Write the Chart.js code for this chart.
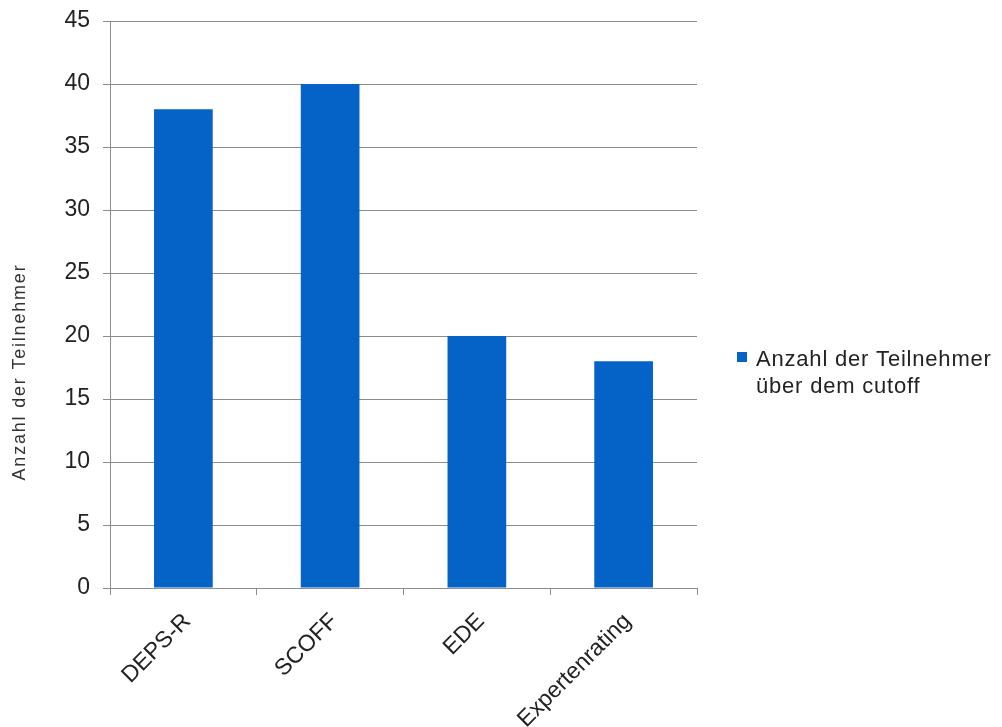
<!DOCTYPE html>
<html>
<head>
<meta charset="utf-8">
<script src="https://cdn.jsdelivr.net/npm/chart.js@4/dist/chart.umd.min.js"></script>
<style>
  html, body { margin: 0; padding: 0; background: #fff; }
  #wrap { position: relative; width: 1002px; height: 727px; }
  canvas { display: block; }
</style>
</head>
<body>
<div id="wrap"><canvas id="c" width="1002" height="727"></canvas></div>
<script>
const categories = ['DEPS-R', 'SCOFF', 'EDE', 'Expertenrating'];
const seriesName = ['Anzahl der Teilnehmer', 'über dem cutoff'];
const seriesValues = [38, 40, 20, 18];
const yTitle = 'Anzahl der Teilnehmer';
const yMin = 0, yMax = 45, yStep = 5;

const barColor = '#0563c8';
const gridColor = '#8c8c8c';
const fontFamily = 'Arial, "Liberation Sans", sans-serif';

const extras = {
  id: 'extras',
  afterDraw(chart) {
    const ctx = chart.ctx;
    ctx.save();
    // y-axis title
    ctx.fillStyle = '#333';
    ctx.font = '18px ' + fontFamily;
    ctx.letterSpacing = '1.8px';
    ctx.textAlign = 'center';
    ctx.textBaseline = 'middle';
    ctx.translate(20, 372);
    ctx.rotate(-Math.PI / 2);
    ctx.fillText(yTitle, 0, 0);
    ctx.restore();

    // legend
    ctx.save();
    ctx.fillStyle = barColor;
    ctx.fillRect(737, 352, 10, 10);
    ctx.fillStyle = '#222';
    ctx.font = '22px ' + fontFamily;
    ctx.letterSpacing = '0.8px';
    ctx.textAlign = 'left';
    ctx.textBaseline = 'alphabetic';
    ctx.fillText(seriesName[0], 756, 366);
    ctx.fillText(seriesName[1], 756, 393);
    ctx.restore();
  }
};

new Chart(document.getElementById('c'), {
  type: 'bar',
  data: {
    labels: categories,
    datasets: [{
      label: seriesName.join(' '),
      data: seriesValues,
      backgroundColor: barColor,
      borderWidth: 0,
      barPercentage: 0.4,
      categoryPercentage: 1.0
    }]
  },
  options: {
    responsive: false,
    animation: false,
    devicePixelRatio: 1,
    layout: { padding: { left: 0, right: 305, top: 21, bottom: 0 } },
    plugins: {
      legend: { display: false },
      tooltip: { enabled: false },
      title: { display: false }
    },
    scales: {
      x: {
        grid: {
          display: true,
          drawOnChartArea: false,
          drawTicks: true,
          tickLength: 7,
          color: gridColor,
          offset: true
        },
        border: { display: true, color: gridColor, width: 1 },
        ticks: {
          color: '#222',
          font: { family: fontFamily, size: 23 },
          maxRotation: 45,
          minRotation: 45,
          padding: 13,
          labelOffset: 4
        },
        afterFit(scale) {
          scale.height = 139;
          scale.paddingLeft = 0; scale.paddingRight = 0;
        }
      },
      y: {
        min: yMin,
        max: yMax,
        grid: {
          color: gridColor,
          lineWidth: 1,
          drawTicks: true,
          tickLength: 7
        },
        border: { display: true, color: gridColor, width: 1 },
        ticks: {
          stepSize: yStep,
          color: '#222',
          font: { family: fontFamily, size: 23 },
          padding: 13
        },
        afterFit(scale) {
          scale.width = 110;
          scale.paddingTop = 0; scale.paddingBottom = 0;
        }
      }
    }
  },
  plugins: [extras]
});
</script>
</body>
</html>
